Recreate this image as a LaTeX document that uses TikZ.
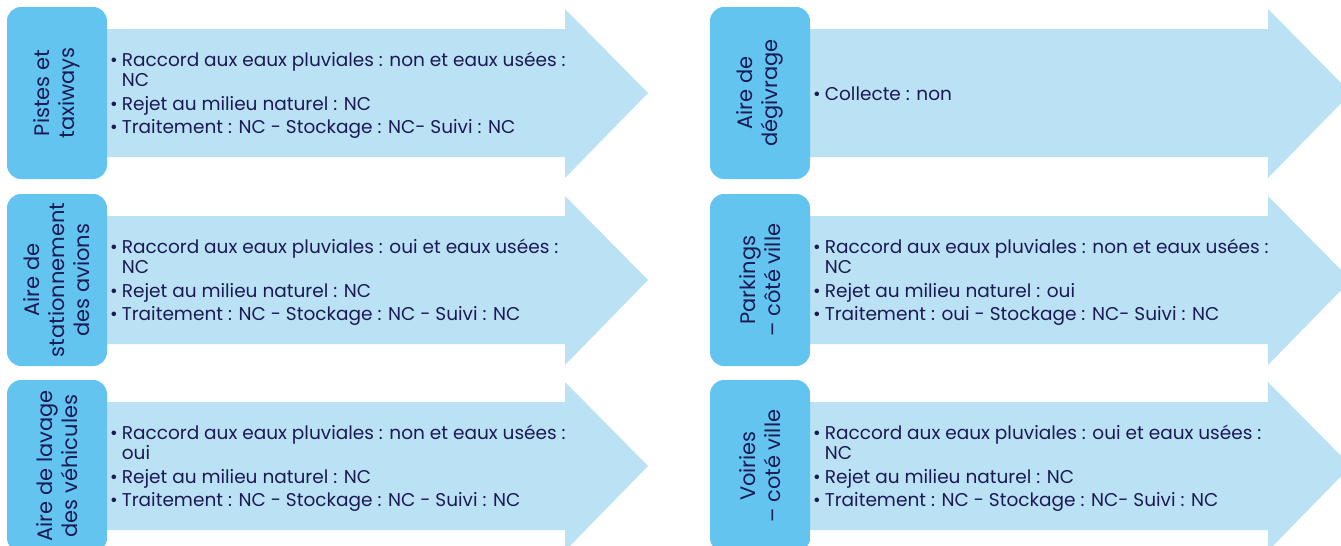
\documentclass[tikz,border=0pt]{standalone}
\usepackage{fontspec}
\setmainfont{Poppins}
\definecolor{boxblue}{HTML}{63C4F0}
\definecolor{arrowblue}{HTML}{BBE1F4}
\definecolor{navy}{HTML}{1A1A55}
\tikzset{
  catbox/.style={fill=boxblue, rounded corners=14pt, minimum width=100pt, minimum height=172pt, inner sep=0pt},
  catlabel/.style={rotate=90, align=center, text=navy, font=\fontsize{21}{25}\selectfont, inner sep=0pt},
  bodytext/.style={anchor=west, align=left, text=navy, font=\fontsize{18.5}{20}\selectfont, inner sep=0pt},
  bigarrow/.style={fill=arrowblue}
}
\newcommand{\panelxy}[5]{%
\begin{scope}[shift={(#1,#2)}]
\fill[bigarrow] (100,29) -- (565,29) -- (565,9) -- (648,93) -- (565,178) -- (565,157) -- (100,157) -- cycle;
\node[catbox] (#3box) at (57,93) {};
\node[catlabel] (#3lab) at (57,93) {#4};
\node[bodytext] (#3txt) at (110,96) {\begin{tabular}{@{}l@{\hspace{4pt}}l@{}}#5\end{tabular}};
\end{scope}}
\begin{document}
\begin{tikzpicture}[x=1pt,y=-1pt]
\useasboundingbox (0,0) rectangle (1341,546);
\panelxy{0}{0}{a}{Pistes et\\taxiways}{%
\textbullet & Raccord aux eaux pluviales : non et eaux usées :\\ & NC\\[3.5pt]
\textbullet & Rejet au milieu naturel : NC\\[3.5pt]
\textbullet & Traitement : NC - Stockage : NC- Suivi : NC}
\panelxy{0}{187}{b}{Aire de\\stationnement\\des avions}{%
\textbullet & Raccord aux eaux pluviales : oui et eaux usées :\\ & NC\\[3.5pt]
\textbullet & Rejet au milieu naturel : NC\\[3.5pt]
\textbullet & Traitement : NC - Stockage : NC - Suivi : NC}
\panelxy{0}{373}{c}{Aire de lavage\\des véhicules}{%
\textbullet & Raccord aux eaux pluviales : non et eaux usées :\\ & oui\\[3.5pt]
\textbullet & Rejet au milieu naturel : NC\\[3.5pt]
\textbullet & Traitement : NC - Stockage : NC - Suivi : NC}
\panelxy{703}{0}{d}{Aire de\\dégivrage}{%
\textbullet & Collecte : non}
\panelxy{703}{187}{e}{Parkings\\– côté ville}{%
\textbullet & Raccord aux eaux pluviales : non et eaux usées :\\ & NC\\[3.5pt]
\textbullet & Rejet au milieu naturel : oui\\[3.5pt]
\textbullet & Traitement : oui - Stockage : NC- Suivi : NC}
\panelxy{703}{373}{f}{Voiries\\– coté ville}{%
\textbullet & Raccord aux eaux pluviales : oui et eaux usées :\\ & NC\\[3.5pt]
\textbullet & Rejet au milieu naturel : NC\\[3.5pt]
\textbullet & Traitement : NC - Stockage : NC- Suivi : NC}
\end{tikzpicture}
\end{document}
